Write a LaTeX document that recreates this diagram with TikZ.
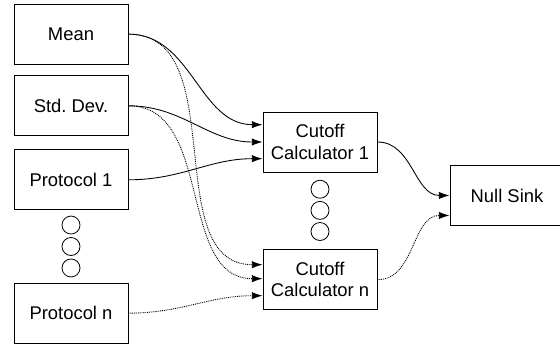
\documentclass[tikz,border=0pt]{standalone}
\usepackage{fontspec}
\setmainfont{Liberation Sans}
\usetikzlibrary{positioning,arrows.meta}
\frenchspacing

\begin{document}
\begin{tikzpicture}[line width=0.75pt,
  block/.style = {draw, rectangle, minimum width=85.5pt, minimum height=45pt, align=center, inner sep=2pt, font=\fontsize{13.8}{16}\selectfont},
  gap/.style = {draw, circle, minimum size=13.5pt, inner sep=0pt, line width=0.6pt},
  feed/.style = {-{Latex[length=8pt,width=5.5pt]}, line width=0.65pt},
  maybe/.style = {feed, dash pattern=on 0.7pt off 0.7pt}]
\useasboundingbox (0,0) rectangle (420pt,-260.25pt);
\node[block] (mean) at (53.25pt,-25.6pt) {Mean};
\node[block] (std) [below=8pt of mean] {Std. Dev.};
\node[block] (p1) [below=9.75pt of std] {Protocol 1};
\node[block] (pn) [below=54.25pt of p1] {Protocol n};
\node[gap] (pa) [below=4pt of p1] {};
\node[gap] (pb) [below=2pt of pa] {};
\node[gap] (pc) [below=2pt of pb] {};
\node[block] (c1) [right=100.5pt of std, yshift=-27.15pt] {Cutoff\\Calculator 1};
\node[block] (cn) [below=57.5pt of c1] {Cutoff\\Calculator n};
\node[gap] (ca) [below=5.5pt of c1] {};
\node[gap] (cb) [below=1.75pt of ca] {};
\node[gap] (cc) [below=1.75pt of cb] {};
\node[block] (null) [right=54pt of c1, yshift=-40.1pt] {Null Sink};
\draw[feed] (mean.east) to[out=0, in=180] ([yshift=13pt]c1.west);
\draw[feed] (std.east) to[out=0, in=180] (c1.west);
\draw[feed] (p1.east) to[out=0, in=180] ([yshift=-12.5pt]c1.west);
\draw[maybe] (mean.east) to[out=0, in=180] ([yshift=11.25pt]cn.west);
\draw[maybe] (std.east) to[out=0, in=180] ([yshift=0.75pt]cn.west);
\draw[maybe] (pn.east) to[out=0, in=180] ([yshift=-12pt]cn.west);
\draw[feed] (c1.east) to[out=0, in=180] (null.west);
\draw[maybe] (cn.east) to[out=0, in=180] ([yshift=-15pt]null.west);
\end{tikzpicture}
\end{document}
